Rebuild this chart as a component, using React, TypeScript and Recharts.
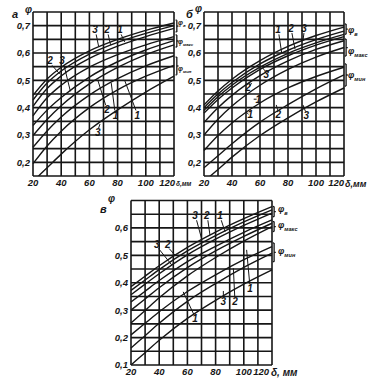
import React from 'react';
import { LineChart, Line, XAxis, YAxis, CartesianGrid, ReferenceLine, ReferenceDot } from 'recharts';

// δ, mm sample points
const deltaMm = [20, 30, 40, 60, 80, 100, 120];
const xTicks = [20, 30, 40, 50, 60, 70, 80, 90, 100, 110, 120];
const xLabels = [20, 40, 60, 80, 100, 120];
const yTicksAB = [0.15, 0.2, 0.25, 0.3, 0.35, 0.4, 0.45, 0.5, 0.55, 0.6, 0.65, 0.7, 0.75];
const yLabelsAB = [0.2, 0.3, 0.4, 0.5, 0.6, 0.7];
const yTicksC = [0.1, 0.15, 0.2, 0.25, 0.3, 0.35, 0.4, 0.45, 0.5, 0.55, 0.6, 0.65, 0.7];
const yLabelsC = [0.1, 0.2, 0.3, 0.4, 0.5, 0.6];

// Panel а
const aPhiV = [
  [0.445, 0.505, 0.548, 0.608, 0.65, 0.683, 0.71],
  [0.428, 0.49, 0.534, 0.596, 0.639, 0.672, 0.7],
  [0.405, 0.47, 0.516, 0.58, 0.625, 0.66, 0.69],
];
const aPhiMax = [
  [0.37, 0.436, 0.482, 0.548, 0.594, 0.63, 0.66],
  [0.335, 0.391, 0.437, 0.512, 0.568, 0.611, 0.645],
  [0.298, 0.357, 0.407, 0.487, 0.547, 0.594, 0.63],
];
const aPhiMin = [
  [0.255, 0.315, 0.366, 0.446, 0.506, 0.553, 0.59],
  [0.195, 0.26, 0.314, 0.4, 0.465, 0.515, 0.555],
  [0.13, 0.18, 0.23, 0.319, 0.392, 0.457, 0.515],
];

// Panel б
const bPhiV = [
  [0.41, 0.461, 0.504, 0.572, 0.624, 0.664, 0.695],
  [0.4, 0.45, 0.492, 0.56, 0.61, 0.649, 0.68],
  [0.39, 0.44, 0.482, 0.548, 0.599, 0.637, 0.668],
];
const bPhiMax = [
  [0.38, 0.43, 0.472, 0.54, 0.59, 0.629, 0.66],
  [0.346, 0.4, 0.445, 0.517, 0.571, 0.613, 0.645],
  [0.3, 0.358, 0.406, 0.482, 0.54, 0.585, 0.62],
];
const bPhiMin = [
  [0.243, 0.298, 0.344, 0.417, 0.472, 0.514, 0.548],
  [0.18, 0.224, 0.268, 0.347, 0.411, 0.469, 0.52],
  [0.13, 0.174, 0.219, 0.298, 0.363, 0.421, 0.472],
];

// Panel в
const cPhiV = [
  [0.386, 0.424, 0.462, 0.529, 0.585, 0.634, 0.678],
  [0.372, 0.41, 0.448, 0.516, 0.572, 0.622, 0.666],
  [0.356, 0.395, 0.433, 0.502, 0.559, 0.609, 0.654],
];
const cPhiMax = [
  [0.33, 0.369, 0.408, 0.477, 0.533, 0.584, 0.629],
  [0.3, 0.341, 0.382, 0.455, 0.516, 0.569, 0.617],
  [0.253, 0.299, 0.345, 0.425, 0.492, 0.552, 0.605],
];
const cPhiMin = [
  [0.21, 0.252, 0.294, 0.368, 0.429, 0.484, 0.532],
  [0.162, 0.207, 0.252, 0.332, 0.397, 0.456, 0.508],
  [0.1, 0.145, 0.19, 0.27, 0.336, 0.395, 0.447],
];

// bracket ranges [x, yLow, yHigh] per group (φв, φмакс, φмин)
const aBrackets = [[122, 0.677, 0.72], [122, 0.622, 0.666], [122, 0.52, 0.585]];
const bBrackets = [[121.5, 0.669, 0.706], [121.5, 0.589, 0.651], [121.5, 0.479, 0.56]];
const cBrackets = [[121.5, 0.641, 0.678], [121.5, 0.587, 0.623], [121.5, 0.477, 0.545]];

// curve number notes: text, label x/y, leader from, leader to
type Note = { t: string; lx: number; ly: number; f: [number, number]; e: [number, number] };
const aNotes: Note[] = [
  { t: '3', lx: 64, ly: 0.685, f: [64.8, 0.668], e: [66.5, 0.625] },
  { t: '2', lx: 72.5, ly: 0.685, f: [73.3, 0.668], e: [75, 0.63] },
  { t: '1', lx: 81.7, ly: 0.685, f: [82.5, 0.668], e: [85, 0.64] },
  { t: '2', lx: 32, ly: 0.572, f: [33.5, 0.555], e: [39, 0.523] },
  { t: '3', lx: 40.6, ly: 0.572, f: [42, 0.555], e: [46.5, 0.46] },
  { t: '2', lx: 72.5, ly: 0.395, f: [71.5, 0.41], e: [66, 0.5] },
  { t: '1', lx: 78.5, ly: 0.372, f: [78, 0.39], e: [75.5, 0.49] },
  { t: '1', lx: 94, ly: 0.372, f: [93, 0.39], e: [85, 0.5] },
  { t: '3', lx: 66, ly: 0.31, f: [66.5, 0.325], e: [67.5, 0.34] },
];
const bNotes: Note[] = [
  { t: '1', lx: 72.9, ly: 0.685, f: [73.5, 0.668], e: [75.5, 0.6] },
  { t: '2', lx: 82.1, ly: 0.69, f: [82.8, 0.673], e: [85, 0.614] },
  { t: '3', lx: 91.4, ly: 0.69, f: [91.4, 0.673], e: [90.7, 0.645] },
  { t: '2', lx: 51.4, ly: 0.474, f: [52.6, 0.478], e: [54, 0.49] },
  { t: '3', lx: 64.5, ly: 0.523, f: [63.5, 0.535], e: [62, 0.545] },
  { t: '1', lx: 58.8, ly: 0.431, f: [57.6, 0.431], e: [55.5, 0.431] },
  { t: '1', lx: 53, ly: 0.376, f: [51.8, 0.376], e: [50, 0.385] },
  { t: '2', lx: 73, ly: 0.376, f: [72.6, 0.392], e: [71.6, 0.41] },
  { t: '3', lx: 93, ly: 0.37, f: [92.5, 0.386], e: [90.7, 0.41] },
];
const cNotes: Note[] = [
  { t: '3', lx: 65.4, ly: 0.645, f: [66.5, 0.628], e: [70, 0.562] },
  { t: '2', lx: 73.7, ly: 0.645, f: [74.5, 0.628], e: [76, 0.574] },
  { t: '1', lx: 83.1, ly: 0.645, f: [84, 0.628], e: [86.7, 0.586] },
  { t: '3', lx: 38.2, ly: 0.54, f: [39.5, 0.525], e: [48.9, 0.465] },
  { t: '2', lx: 46, ly: 0.54, f: [47, 0.525], e: [51.2, 0.501] },
  { t: '1', lx: 65.4, ly: 0.27, f: [64.5, 0.285], e: [57, 0.367] },
  { t: '3', lx: 85.5, ly: 0.331, f: [85.5, 0.347], e: [85.5, 0.37] },
  { t: '2', lx: 93.8, ly: 0.331, f: [93.6, 0.347], e: [92.6, 0.453] },
  { t: '1', lx: 104.4, ly: 0.38, f: [104.2, 0.396], e: [102, 0.52] },
];

const FONT = "'Liberation Sans', Arial, sans-serif";
const INK = '#161616';
const tickStyle = { fontSize: 9.5, fontStyle: 'italic', fontWeight: 700, fill: INK, fontFamily: FONT };

function fmtY(labels: number[]) {
  return (v: number) => (labels.some((l) => Math.abs(l - v) < 1e-6) ? '0,' + Math.round(v * 10) : '');
}

function makeXTick(lastShift: number) {
  return (p: any) => {
    const v = p.payload.value;
    if (xLabels.indexOf(v) < 0) return <g />;
    const last = v === 120;
    return (
      <text
        x={last ? p.x + lastShift : p.x}
        y={p.y}
        dy="0.71em"
        textAnchor={last ? 'end' : 'middle'}
        fontSize={9.5}
        fontStyle="italic"
        fontWeight={700}
        fontFamily={FONT}
        fill={INK}
      >
        {v}
      </text>
    );
  };
}

function Panel(props: any) {
  const { left, top, width, height, margin, yAxisWidth, xAxisHeight, yDomain, yTicks, yLabels, groups, brackets, notes, lastShift } = props;
  const curves: number[][] = [].concat(...groups);
  const rows = deltaMm.map((d, i) => {
    const r: any = { d };
    curves.forEach((c, j) => {
      r['c' + j] = c[i];
    });
    return r;
  });
  const segs: any[] = [];
  brackets.forEach((b: number[]) => {
    const [x, y1, y2] = b;
    const ym = (y1 + y2) / 2;
    segs.push([[x, y1], [x, y2]]);
    segs.push([[x - 0.9, y1], [x, y1]]);
    segs.push([[x - 0.9, y2], [x, y2]]);
    segs.push([[x, ym], [x + 1.2, ym]]);
  });
  return (
    <div style={{ position: 'absolute', left, top }}>
      <LineChart width={width} height={height} data={rows} margin={margin}>
        <CartesianGrid stroke={INK} strokeWidth={1.6} />
        <XAxis
          type="number"
          dataKey="d"
          domain={[20, 120]}
          ticks={xTicks}
          interval={0}
          axisLine={false}
          tickLine={false}
          tickSize={0}
          tickMargin={3}
          height={xAxisHeight}
          tick={makeXTick(lastShift)}
        />
        <YAxis
          type="number"
          domain={yDomain}
          ticks={yTicks}
          interval={0}
          allowDataOverflow
          tickFormatter={fmtY(yLabels)}
          axisLine={false}
          tickLine={false}
          tickSize={0}
          tickMargin={3}
          width={yAxisWidth}
          tick={tickStyle}
        />
        {curves.map((c, j) => (
          <Line
            key={j}
            dataKey={'c' + j}
            type="monotone"
            stroke={INK}
            strokeWidth={1.4}
            dot={false}
            isAnimationActive={false}
          />
        ))}
        {segs.map((s, k) => (
          <ReferenceLine
            key={'b' + k}
            segment={[{ x: s[0][0], y: s[0][1] }, { x: s[1][0], y: s[1][1] }]}
            stroke={INK}
            strokeWidth={1.3}
            ifOverflow="visible"
          />
        ))}
        {notes.map((n: Note, k: number) => (
          <ReferenceLine
            key={'l' + k}
            segment={[{ x: n.f[0], y: n.f[1] }, { x: n.e[0], y: n.e[1] }]}
            stroke={INK}
            strokeWidth={1}
            ifOverflow="visible"
          />
        ))}
        {notes.map((n: Note, k: number) => (
          <ReferenceDot
            key={'n' + k}
            x={n.lx}
            y={n.ly}
            r={0}
            ifOverflow="visible"
            fill="none"
            stroke="none"
            label={{ value: n.t, position: 'center', fontSize: 10, fontStyle: 'italic', fontWeight: 700, fill: INK, fontFamily: FONT }}
          />
        ))}
      </LineChart>
    </div>
  );
}

const txt = (left: number, top: number, children: any, size = 11) => (
  <div
    style={{
      position: 'absolute',
      left,
      top,
      fontSize: size,
      fontStyle: 'italic',
      fontWeight: 700,
      fontFamily: FONT,
      color: INK,
      lineHeight: 1,
      whiteSpace: 'nowrap',
    }}
  >
    {children}
  </div>
);

const phi = (sub: string, size = 9) => (
  <span style={{ fontSize: size }}>
    φ<sub style={{ fontSize: size * 0.62 }}>{sub}</sub>
  </span>
);

export default function App() {
  return (
    <div style={{ position: 'absolute', left: 0, top: 0, width: 377, height: 384, background: '#fff', overflow: 'hidden' }}>
      <Panel
        left={0}
        top={0}
        width={192}
        height={194}
        margin={{ top: 12, right: 18, bottom: 0, left: 0 }}
        yAxisWidth={33}
        xAxisHeight={18}
        yDomain={[0.15, 0.75]}
        yTicks={yTicksAB}
        yLabels={yLabelsAB}
        groups={[aPhiV, aPhiMax, aPhiMin]}
        brackets={aBrackets}
        notes={aNotes}
        lastShift={1}
      />
      <Panel
        left={170}
        top={0}
        width={207}
        height={194}
        margin={{ top: 12, right: 33, bottom: 0, left: 0 }}
        yAxisWidth={34}
        xAxisHeight={18}
        yDomain={[0.15, 0.75]}
        yTicks={yTicksAB}
        yLabels={yLabelsAB}
        groups={[bPhiV, bPhiMax, bPhiMin]}
        brackets={bBrackets}
        notes={bNotes}
        lastShift={0}
      />
      <Panel
        left={95}
        top={190}
        width={230}
        height={194}
        margin={{ top: 10.5, right: 53, bottom: 0, left: 0 }}
        yAxisWidth={36}
        xAxisHeight={19}
        yDomain={[0.1, 0.7]}
        yTicks={yTicksC}
        yLabels={yLabelsC}
        groups={[cPhiV, cPhiMax, cPhiMin]}
        brackets={cBrackets}
        notes={cNotes}
        lastShift={-3}
      />
      {txt(12, 9, 'а')}
      {txt(25, 5, 'φ', 10)}
      {txt(176, 181, 'δ,мм', 6.5)}
      {txt(186, 9, 'б')}
      {txt(195, 4, 'φ', 10)}
      {txt(345, 180, 'δ,мм', 9)}
      {txt(100, 204, 'в')}
      {txt(108, 194, 'φ', 10)}
      {txt(271, 368, 'δ, мм', 10)}
      {txt(178, 16, phi('в', 7))}
      {txt(178, 35, phi('макс', 7))}
      {txt(178, 62, phi('мин', 7))}
      {txt(348, 24, phi('в'))}
      {txt(348, 45, phi('макс'))}
      {txt(348, 69, phi('мин'))}
      {txt(278, 203, phi('в'))}
      {txt(278, 219, phi('макс'))}
      {txt(278, 245, phi('мин'))}
    </div>
  );
}
